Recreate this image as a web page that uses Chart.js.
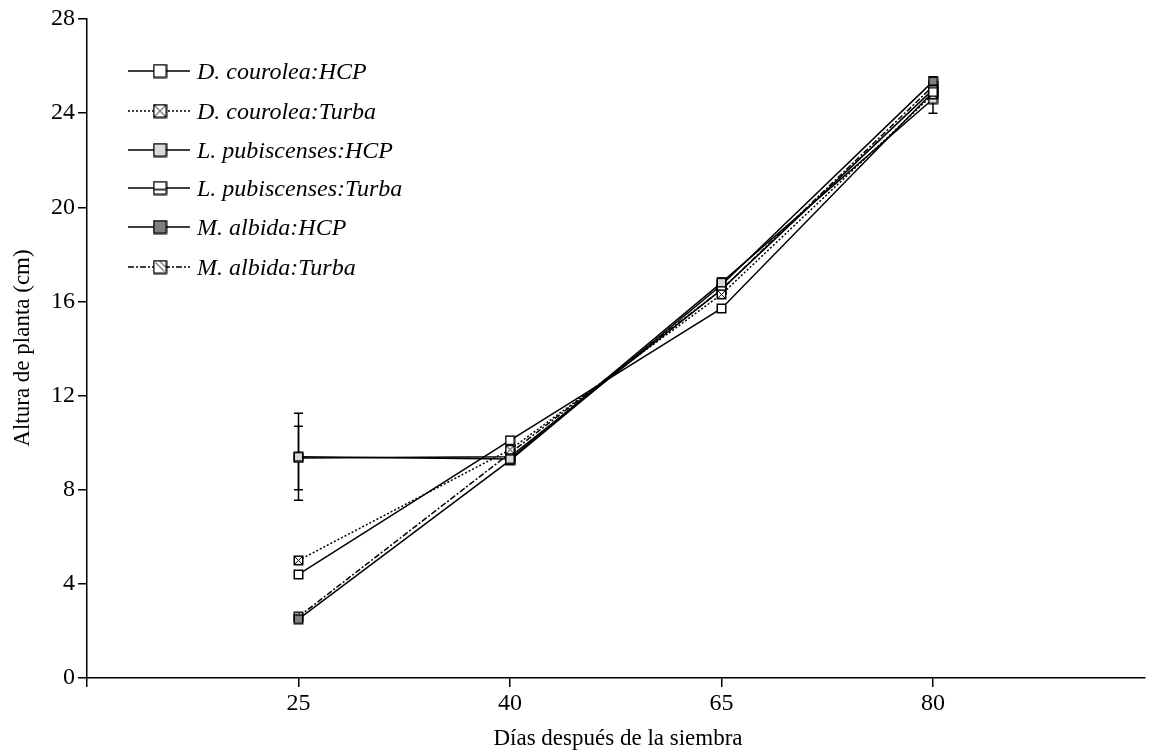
<!DOCTYPE html>
<html>
<head>
<meta charset="utf-8">
<script src="https://cdn.jsdelivr.net/npm/chart.js@4/dist/chart.umd.min.js"></script>
<style>
  html, body { margin: 0; padding: 0; background: #fff; }
  #wrap { width: 1151px; height: 751px; position: relative; }
</style>
</head>
<body>
<div id="wrap"><canvas id="grafico"></canvas></div>
<script>
// Días después de la siembra
const dias = ['25', '40', '65', '80'];

// Altura de planta (cm) por tratamiento
const dcHCP = [4.4, 10.1, 15.7, 24.9];
const dcTurba = [5.0, 9.7, 16.3, 24.8];
const lpHCP = [9.4, 9.3, 16.8, 24.6];
const lpTurba = [9.35, 9.4, 16.5, 25.0];
const maHCP = [2.5, 9.25, 16.7, 25.35];
const maTurba = [2.6, 9.55, 16.5, 25.15];

// Error estándar
const dcHCPErr = [0.1, 0.1, 0.15, 0.2];
const dcTurbaErr = [0.1, 0.1, 0.15, 0.2];
const lpHCPErr = [1.85, 0.1, 0.2, 0.6];
const lpTurbaErr = [1.35, 0.1, 0.2, 0.2];
const maHCPErr = [0.1, 0.1, 0.15, 0.2];
const maTurbaErr = [0.1, 0.1, 0.15, 0.2];

const yTicks = [0, 4, 8, 12, 16, 20, 24, 28];

// Marcadores cuadrados
function marcador(fill, deco, lado) {
    const c = document.createElement('canvas');
    c.width = lado + 2; c.height = lado + 2;
    const g = c.getContext('2d');
    const a = 1, b = lado + 1, m = (a + b) / 2;
    g.fillStyle = fill;
    g.fillRect(a, a, lado, lado);
    g.strokeStyle = '#000';
    g.lineWidth = 1;
    g.beginPath();
    if (deco === 'x') {
        g.moveTo(a + 1, a + 1); g.lineTo(b - 1, b - 1);
        g.moveTo(b - 1, a + 1); g.lineTo(a + 1, b - 1);
    } else if (deco === 'h') {
        g.lineWidth = 1.5;
        g.moveTo(a, m + lado * 0.12); g.lineTo(b, m + lado * 0.12);
    } else if (deco === 'd') {
        g.moveTo(a + 2, a + 2); g.lineTo(b - 2, b - 2);
        g.moveTo(m, a + 1); g.lineTo(b - 1, m);
    }
    g.stroke();
    g.lineWidth = 1.5;
    g.strokeRect(a + 0.25, a + 0.25, lado - 0.5, lado - 0.5);
    return c;
}

function serie(label, valores, errores, fill, deco, dash) {
    return {
        label: label,
        data: valores.map((v, i) => ({ x: i + 1, y: v })),
        errores: errores,
        borderColor: '#000',
        borderWidth: 1.5,
        borderDash: dash,
        pointStyle: marcador(fill, deco, 9),
        marcaLeyenda: marcador(fill, deco, 13),
        pointRadius: 5,
        fill: false,
        tension: 0
    };
}

const datasets = [
    serie('D. courolea:HCP', dcHCP, dcHCPErr, '#fff', null, []),
    serie('D. courolea:Turba', dcTurba, dcTurbaErr, '#fff', 'x', [2, 2]),
    serie('L. pubiscenses:HCP', lpHCP, lpHCPErr, '#d9d9d9', null, []),
    serie('L. pubiscenses:Turba', lpTurba, lpTurbaErr, '#fff', 'h', []),
    serie('M. albida:HCP', maHCP, maHCPErr, '#7f7f7f', null, []),
    serie('M. albida:Turba', maTurba, maTurbaErr, '#fff', 'd', [6, 2, 2, 2])
];

const fuente = "'Liberation Serif', 'Times New Roman', serif";

// Barras de error, leyenda y títulos
const extras = {
    id: 'extras',
    beforeDatasetsDraw(chart) {
        const ctx = chart.ctx;
        const xs = chart.scales.x, ys = chart.scales.y;
        ctx.save();
        ctx.strokeStyle = '#000';
        ctx.lineWidth = 1.5;
        chart.data.datasets.forEach(ds => {
            ds.data.forEach((p, i) => {
                const e = ds.errores[i];
                const x = xs.getPixelForValue(p.x);
                const y1 = ys.getPixelForValue(p.y + e);
                const y2 = ys.getPixelForValue(p.y - e);
                ctx.beginPath();
                ctx.moveTo(x, y1); ctx.lineTo(x, y2);
                ctx.moveTo(x - 4.5, y1); ctx.lineTo(x + 4.5, y1);
                ctx.moveTo(x - 4.5, y2); ctx.lineTo(x + 4.5, y2);
                ctx.stroke();
            });
        });
        ctx.restore();
    },
    afterDraw(chart) {
        const ctx = chart.ctx;
        ctx.save();
        chart.data.datasets.forEach((ds, i) => {
            const y = [71, 111, 150, 188, 227, 267][i];
            ctx.strokeStyle = '#000';
            ctx.lineWidth = 1.5;
            ctx.setLineDash(ds.borderDash);
            ctx.beginPath();
            ctx.moveTo(128, y); ctx.lineTo(190, y);
            ctx.stroke();
            ctx.setLineDash([]);
            const m = ds.marcaLeyenda;
            ctx.drawImage(m, 160 - m.width / 2, y - m.height / 2);
            ctx.fillStyle = '#000';
            ctx.font = 'italic 24px ' + fuente;
            ctx.textBaseline = 'middle';
            ctx.textAlign = 'left';
            ctx.fillText(ds.label, 197, y + 2);
        });
        ctx.font = '23px ' + fuente;
        ctx.textAlign = 'center';
        ctx.textBaseline = 'middle';
        ctx.fillText('Días después de la siembra', 618, 739);
        ctx.translate(23, 348);
        ctx.rotate(-Math.PI / 2);
        ctx.fillText('Altura de planta (cm)', 0, 0);
        ctx.restore();
    }
};

new Chart(document.getElementById('grafico'), {
    type: 'line',
    data: { datasets: datasets },
    plugins: [extras],
    options: {
        responsive: true,
        maintainAspectRatio: false,
        animation: false,
        layout: { padding: { top: 19, right: 1, left: 0, bottom: 0 } },
        plugins: {
            legend: { display: false },
            tooltip: { enabled: false }
        },
        scales: {
            x: {
                type: 'linear',
                min: 0,
                max: 5,
                afterBuildTicks: s => { s.ticks = [0, 1, 2, 3, 4].map(v => ({ value: v })); },
                afterFit: s => { s.height = 73; },
                grid: { drawOnChartArea: false, drawTicks: true, tickLength: 9, color: '#000', lineWidth: 1.5 },
                border: { display: true, color: '#000', width: 1.5 },
                ticks: {
                    color: '#000',
                    font: { family: fuente, size: 24 },
                    padding: 2,
                    maxRotation: 0,
                    autoSkip: false,
                    callback: v => (v >= 1 && v <= dias.length) ? dias[v - 1] : ''
                }
            },
            y: {
                min: 0,
                max: 28,
                afterBuildTicks: s => { s.ticks = yTicks.map(v => ({ value: v })); },
                afterFit: s => { s.width = 87; },
                grid: { drawOnChartArea: false, drawTicks: true, tickLength: 9, color: '#000', lineWidth: 1.5 },
                border: { display: true, color: '#000', width: 1.5 },
                ticks: {
                    color: '#000',
                    font: { family: fuente, size: 24 },
                    padding: 3
                }
            }
        }
    }
});
</script>
</body>
</html>
